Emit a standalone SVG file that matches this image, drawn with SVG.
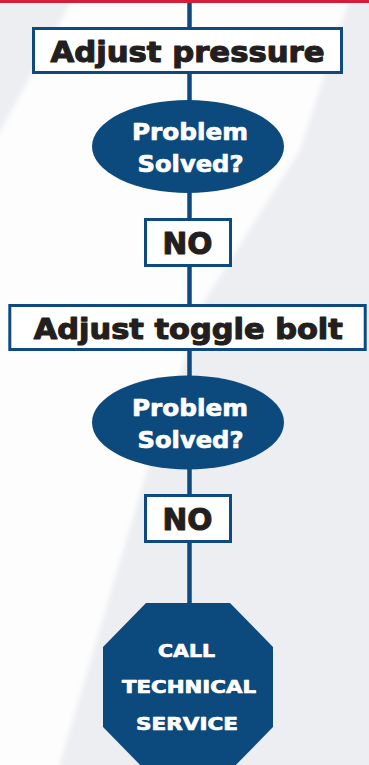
<svg xmlns="http://www.w3.org/2000/svg" width="369" height="765" viewBox="0 0 369 765">
<style>
.box{fill:#ffffff;stroke:#0e4a7f;stroke-width:3}
.term{fill:#0c4a7e}
.dark{font-family:"DejaVu Sans","Liberation Sans",sans-serif;font-weight:bold;fill:#231f20;stroke:#231f20;stroke-width:1.1;stroke-linejoin:round;text-anchor:middle}
.light{font-family:"DejaVu Sans","Liberation Sans",sans-serif;font-weight:bold;fill:#ffffff;stroke:#ffffff;stroke-width:0.7;stroke-linejoin:round;text-anchor:middle}
.conn{stroke:#0e4a7f;stroke-width:4.5;fill:none}
</style>
<defs>
<filter id="soft" x="-10%" y="-10%" width="120%" height="120%"><feGaussianBlur stdDeviation="2.5"/></filter>
</defs>
<g id="background">
<rect x="0" y="0" width="369" height="765" fill="#fdfdfd"/>
<g filter="url(#soft)" fill="#eceef1">
<polygon points="-10,0 72,0 -10,150"/>
<polygon points="349,0 380,0 380,780 55,780 145,477 205,300 300,150"/>
</g>
<rect x="0" y="0" width="369" height="3" fill="#d51f3a"/>
</g>
<g id="connectors">
<line class="conn" x1="189.5" y1="3" x2="189.5" y2="28"/>
<line class="conn" x1="189.5" y1="73" x2="189.5" y2="101"/>
<line class="conn" x1="189.5" y1="192" x2="189.5" y2="219"/>
<line class="conn" x1="189.5" y1="266" x2="189.5" y2="305"/>
<line class="conn" x1="189.5" y1="350" x2="189.5" y2="376"/>
<line class="conn" x1="189.5" y1="469" x2="189.5" y2="495"/>
<line class="conn" x1="189.5" y1="542" x2="189.5" y2="604"/>
</g>
<g id="adjust-pressure">
<rect class="box" x="33.5" y="28.5" width="308" height="44"/>
<text class="dark" x="187.5" y="62" font-size="27.5" textLength="274" lengthAdjust="spacingAndGlyphs">Adjust pressure</text>
</g>
<g id="problem-solved-1">
<ellipse class="term" cx="188" cy="146.5" rx="96" ry="46.5"/>
<text class="light" x="190" y="140" font-size="23" textLength="116" lengthAdjust="spacingAndGlyphs">Problem</text>
<text class="light" x="190.5" y="171.5" font-size="23" textLength="106" lengthAdjust="spacingAndGlyphs">Solved?</text>
</g>
<g id="no-1">
<rect class="box" x="145.5" y="219.5" width="85" height="46"/>
<text class="dark" x="187.5" y="254" font-size="30.5" textLength="50" lengthAdjust="spacingAndGlyphs">NO</text>
</g>
<g id="adjust-toggle-bolt">
<rect class="box" x="9.8" y="305.5" width="355.4" height="44"/>
<text class="dark" x="188.3" y="339" font-size="27.5" textLength="309" lengthAdjust="spacingAndGlyphs">Adjust toggle bolt</text>
</g>
<g id="problem-solved-2">
<ellipse class="term" cx="188" cy="422.5" rx="96" ry="47"/>
<text class="light" x="190" y="416" font-size="23" textLength="116" lengthAdjust="spacingAndGlyphs">Problem</text>
<text class="light" x="190.5" y="447.5" font-size="23" textLength="106" lengthAdjust="spacingAndGlyphs">Solved?</text>
</g>
<g id="no-2">
<rect class="box" x="145.5" y="495.5" width="85" height="46"/>
<text class="dark" x="187.5" y="529.5" font-size="30.5" textLength="50" lengthAdjust="spacingAndGlyphs">NO</text>
</g>
<g id="call-technical-service">
<polygon class="term" points="146,603 230,603 273,647 273,727 230,771 146,771 103,727 103,647"/>
<text class="light" x="186.5" y="656.5" font-size="17" textLength="57" lengthAdjust="spacingAndGlyphs">CALL</text>
<text class="light" x="189" y="692.5" font-size="17" textLength="134" lengthAdjust="spacingAndGlyphs">TECHNICAL</text>
<text class="light" x="187" y="729.5" font-size="17" textLength="102" lengthAdjust="spacingAndGlyphs">SERVICE</text>
</g>
</svg>
